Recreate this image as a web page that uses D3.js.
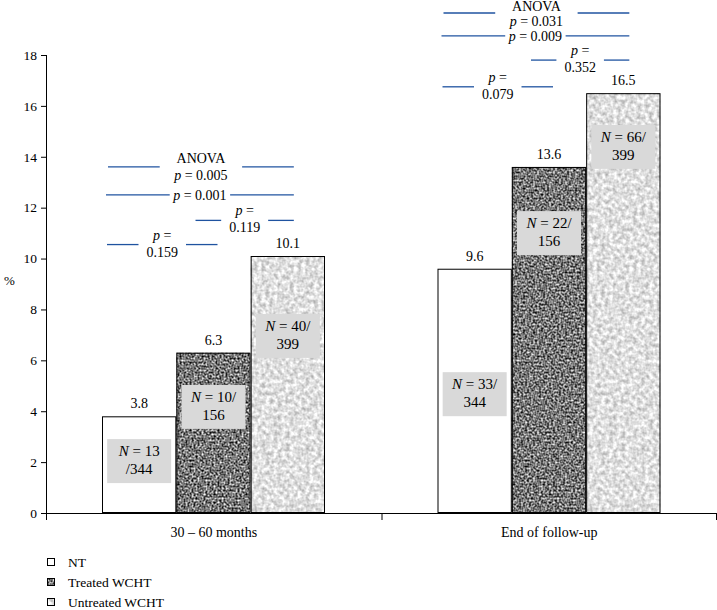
<!DOCTYPE html>
<html>
<head>
<meta charset="utf-8">
<script src="https://cdn.jsdelivr.net/npm/d3@7"></script>
<style>
  body { margin: 0; background: #fff; }
  svg { display: block; font-family: "Liberation Serif", "DejaVu Serif", serif; }
</style>
</head>
<body>
<svg width="717" height="610"></svg>
<script>
// data
const periods = ['30 – 60 months', 'End of follow-up'];
const groups = ['NT', 'Treated WCHT', 'Untreated WCHT'];
const percents = [
  [3.8, 6.3, 10.1],
  [9.6, 13.6, 16.5]
];
const nCases = [
  [13, 10, 40],
  [33, 22, 66]
];
const nTotals = [344, 156, 399];
const anovaP = ['0.005', '0.031'];
const ntVsUntreatedP = ['0.001', '0.009'];
const treatedVsUntreatedP = ['0.119', '0.352'];
const ntVsTreatedP = ['0.159', '0.079'];
const yTicks = [0, 2, 4, 6, 8, 10, 12, 14, 16, 18];

// layout (value units for vertical placement of labels/brackets)
const nBoxAt = [[2.04, 4.17, 6.96], [4.67, 11.0, 14.39]];
const bracketAt = [[13.6, 12.5, 11.5, 10.55], [19.65, 18.75, 17.8, 16.75]];

const svg = d3.select('svg');
const plotLeft = 46, plotRight = 717, plotTop = 55, plotBottom = 513;

const y = d3.scaleLinear().domain([0, 18]).range([plotBottom, plotTop]);
const x0 = d3.scaleBand().domain(periods).range([plotLeft, plotRight]);
const x1 = d3.scaleBand().domain(groups).range([56, 56 + 223]);
const bw = x1.bandwidth();

// textures
const defs = svg.append('defs');
const makeNoise = (id, freq, oct, gain, offset, blur) => {
  const f = defs.append('filter').attr('id', id)
    .attr('x', 0).attr('y', 0).attr('width', 1).attr('height', 1)
    .attr('color-interpolation-filters', 'sRGB');
  f.append('feTurbulence').attr('type', 'fractalNoise')
    .attr('baseFrequency', freq).attr('numOctaves', oct).attr('seed', 3).attr('result', 'n');
  const row = `${gain} 0 0 0 ${offset}`;
  f.append('feColorMatrix').attr('in', 'n').attr('type', 'matrix')
    .attr('values', `${row} ${row} ${row} 0 0 0 0 1`).attr('result', 'g');
  let src = 'g';
  if (blur) {
    f.append('feGaussianBlur').attr('in', 'g').attr('stdDeviation', blur).attr('result', 'b');
    src = 'b';
  }
  f.append('feComposite').attr('in', src).attr('in2', 'SourceGraphic').attr('operator', 'in');
};
makeNoise('darkNoise', 0.5, 1, 1.6, -0.33, 0);
makeNoise('lightNoise', 0.25, 2, 0.55, 0.6, 0.4);

const fillFor = g => g === 'NT' ? null : (g === 'Treated WCHT' ? 'url(#darkNoise)' : 'url(#lightNoise)');

// bars
const rows = periods.map((p, i) => groups.map((g, j) => ({
  period: p, group: g, value: percents[i][j], n: nCases[i][j], total: nTotals[j], pi: i, gi: j
})));

const periodG = svg.selectAll('g.period')
  .data(rows)
  .join('g')
    .attr('class', 'period')
    .attr('transform', (d, i) => `translate(${x0(periods[i])},0)`);

const bar = periodG.selectAll('g.bar')
  .data(d => d)
  .join('g')
    .attr('class', 'bar');

bar.append('rect')
  .attr('x', d => x1(d.group))
  .attr('y', d => y(d.value))
  .attr('width', bw)
  .attr('height', d => y(0) - y(d.value))
  .attr('fill', '#fff')
  .attr('filter', d => fillFor(d.group));

bar.append('rect')
  .attr('x', d => x1(d.group) + 0.5)
  .attr('y', d => y(d.value) + 0.5)
  .attr('width', bw - 1)
  .attr('height', d => y(0) - y(d.value) - 1)
  .attr('fill', 'none')
  .attr('stroke', '#000')
  .attr('stroke-width', 1);

bar.append('text')
  .attr('x', d => x1(d.group) + bw / 2)
  .attr('y', d => y(d.value) - 8)
  .attr('text-anchor', 'middle')
  .attr('font-size', 14)
  .text(d => d.value.toFixed(1));

// N = x/total boxes
bar.each(function (d) {
  const g = d3.select(this);
  const cx = x1(d.group) + bw / 2;
  const cy = y(nBoxAt[d.pi][d.gi]);
  g.append('rect')
    .attr('x', cx - 32).attr('y', cy - 22)
    .attr('width', 64).attr('height', 44)
    .attr('fill', '#d9d9d9');
  const splitAfterSlash = !(d.pi === 0 && d.gi === 0);
  const t1 = g.append('text').attr('x', cx).attr('y', cy - 5)
    .attr('text-anchor', 'middle').attr('font-size', 15);
  t1.append('tspan').attr('font-style', 'italic').text('N');
  t1.append('tspan').text(` = ${d.n}` + (splitAfterSlash ? '/' : ''));
  g.append('text').attr('x', cx).attr('y', cy + 13)
    .attr('text-anchor', 'middle').attr('font-size', 15)
    .text((splitAfterSlash ? '' : '/') + d.total);
});

// significance brackets
const blue = '#1f53a0';
periods.forEach((p, i) => {
  const ox = x0(p);
  const g = svg.append('g').attr('transform', `translate(${ox},0)`);
  const bl = k => x1(groups[k]);
  const bc = k => x1(groups[k]) + bw / 2;
  const comps = [
    { lines: ['ANOVA', 'p = ' + anovaP[i]], x1: bl(0) + 6, x2: bc(2) + 6, kind: 'anova' },
    { lines: ['p = ' + ntVsUntreatedP[i]], x1: bl(0) + 4, x2: bc(2) + 6, kind: 'inline' },
    { lines: ['p =', treatedVsUntreatedP[i]], x1: bc(1) - 18, x2: bc(2) + 6, kind: 'stack' },
    { lines: ['p =', ntVsTreatedP[i]], x1: bl(0) + 5, x2: bc(1) + 4, kind: 'stack' }
  ];
  comps.forEach((c, k) => {
    const ly = y(bracketAt[i][k]);
    const mid = (c.x1 + c.x2) / 2;
    const tg = g.append('g');
    const offs = c.kind === 'inline' ? [5] : (c.kind === 'anova' ? [-4, 13] : [-5, 12]);
    c.lines.forEach((s, m) => {
      const t = tg.append('text').attr('x', mid).attr('y', Math.max(ly + offs[m], 11))
        .attr('text-anchor', 'middle').attr('font-size', 14);
      if (s.startsWith('p')) {
        t.append('tspan').attr('font-style', 'italic').text('p');
        t.append('tspan').text(s.slice(1));
      } else {
        t.text(s);
      }
    });
    const w = tg.node().getBBox().width;
    const pad = c.kind === 'anova' ? 14 : (c.kind === 'inline' ? 3 : 8);
    g.append('line').attr('x1', c.x1).attr('x2', mid - w / 2 - pad)
      .attr('y1', ly).attr('y2', ly).attr('stroke', blue).attr('stroke-width', 1.3);
    g.append('line').attr('x1', mid + w / 2 + pad).attr('x2', c.x2)
      .attr('y1', ly).attr('y2', ly).attr('stroke', blue).attr('stroke-width', 1.3);
  });
});

// y axis
const yAxis = svg.append('g')
  .attr('transform', `translate(${plotLeft},0)`)
  .call(d3.axisLeft(y).tickValues(yTicks).tickSize(5).tickSizeOuter(0).tickPadding(4));
yAxis.select('.domain').attr('d', `M0.5,${plotTop}V${plotBottom}`);
yAxis.selectAll('text').attr('font-size', 13.5).attr('fill', '#000');
yAxis.attr('font-family', null).attr('font-size', null);

svg.append('text').attr('x', 4).attr('y', 285).attr('font-size', 13).text('%');

// x axis
svg.append('line').attr('x1', plotLeft).attr('x2', plotRight - 1)
  .attr('y1', plotBottom + 0.5).attr('y2', plotBottom + 0.5)
  .attr('stroke', '#000');
const edges = [...periods.map(p => x0(p)), x0.range()[1] - 1];
svg.selectAll('line.xtick').data(edges).join('line')
  .attr('class', 'xtick')
  .attr('x1', d => d + 0.5).attr('x2', d => d + 0.5)
  .attr('y1', plotBottom).attr('y2', plotBottom + 7)
  .attr('stroke', '#000');
svg.selectAll('text.xlab').data(periods).join('text')
  .attr('class', 'xlab')
  .attr('x', d => x0(d) + x0.bandwidth() / 2)
  .attr('y', 537)
  .attr('text-anchor', 'middle')
  .attr('font-size', 14)
  .text(d => d);

// legend
const legend = svg.selectAll('g.legend').data(groups).join('g')
  .attr('class', 'legend')
  .attr('transform', (d, i) => `translate(47,${558 + i * 20})`);
legend.append('rect').attr('width', 8).attr('height', 8)
  .attr('fill', '#fff').attr('filter', d => fillFor(d));
legend.append('rect').attr('x', 0.5).attr('y', 0.5).attr('width', 7).attr('height', 7)
  .attr('fill', 'none').attr('stroke', '#000');
legend.append('text').attr('x', 21).attr('y', 9).attr('font-size', 13.5).text(d => d);
</script>
</body>
</html>
